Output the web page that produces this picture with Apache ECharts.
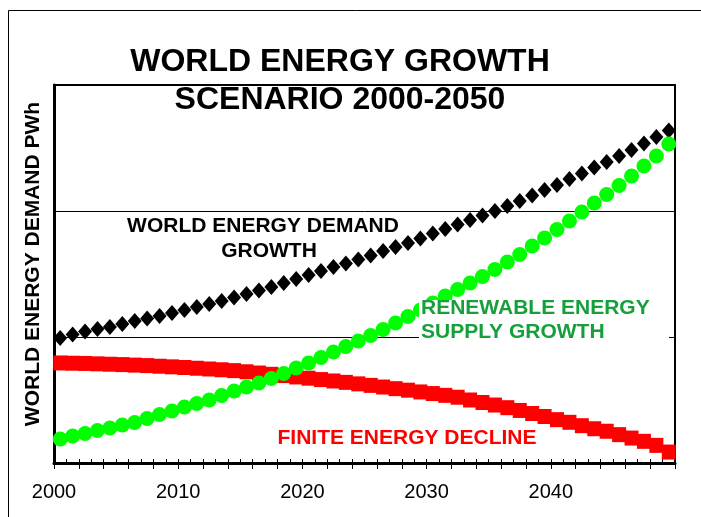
<!DOCTYPE html>
<html>
<head>
<meta charset="utf-8">
<script src="https://cdn.jsdelivr.net/npm/echarts@6/dist/echarts.min.js"></script>
<style>html,body{margin:0;padding:0;background:#fff;}#c{width:701px;height:517px;}</style>
</head>
<body>
<div id="c"></div>
<script>
const years = ['2000','2001','2002','2003','2004','2005','2006','2007','2008','2009',
 '2010','2011','2012','2013','2014','2015','2016','2017','2018','2019',
 '2020','2021','2022','2023','2024','2025','2026','2027','2028','2029',
 '2030','2031','2032','2033','2034','2035','2036','2037','2038','2039',
 '2040','2041','2042','2043','2044','2045','2046','2047','2048','2049'];

const demand = [99.2,102.0,104.4,106.3,107.9,110.3,112.7,114.7,116.7,119.0,
 121.4,123.8,126.2,128.6,131.3,134.1,136.9,139.7,142.9,146.0,
 149.2,152.4,155.6,158.3,161.5,164.7,168.3,171.4,174.6,178.2,
 182.1,185.7,189.3,192.9,196.4,200.0,204.0,207.9,212.3,216.7,
 220.6,225.4,229.8,234.5,238.9,243.7,248.4,253.6,258.7,263.9];

const renewable = [19.0,21.4,23.4,25.8,27.8,30.2,32.1,35.3,38.5,41.3,
 44.4,47.2,50.0,53.6,57.1,60.3,63.5,67.1,71.0,75.4,
 79.4,83.7,88.1,92.5,96.8,101.2,106.0,111.1,116.3,121.4,
 127.0,132.5,137.7,142.9,148.0,153.6,159.5,165.5,172.2,178.6,
 185.3,192.1,199.2,206.3,213.1,220.2,227.8,235.7,243.7,253.2];

const finite = [79.4,79.2,79.0,78.7,78.4,78.1,77.7,77.3,76.8,76.3,
 75.8,75.2,74.6,74.0,73.3,72.4,71.4,70.4,69.4,68.3,
 67.3,66.2,65.1,64.0,62.8,61.6,60.3,59.0,57.8,56.4,
 55.1,53.7,52.2,50.0,48.0,46.0,43.9,41.7,39.3,36.9,
 34.4,32.3,29.6,27.2,25.2,22.5,19.8,17.2,14.0,8.7];

const titleLines = ['WORLD ENERGY GROWTH','SCENARIO 2000-2050'];
const yName = 'WORLD ENERGY DEMAND PWh';
const labelDemand = ['WORLD ENERGY DEMAND','GROWTH'];
const labelRenew = ['RENEWABLE ENERGY','SUPPLY GROWTH'];
const labelFinite = 'FINITE ENERGY DECLINE';

const FF = '"Liberation Sans", Arial, sans-serif';
const chart = echarts.init(document.getElementById('c'));

function txt(x, y, text, size, color, align, extra) {
  return Object.assign({
    type: 'text', x: x, y: y, z: 100,
    style: { text: text, fill: color, align: align || 'center', verticalAlign: 'middle',
      fontFamily: FF, fontWeight: 'bold', fontSize: size }
  }, extra || {});
}

chart.setOption({
  animation: false,
  backgroundColor: '#fff',
  grid: { left: 54, right: 26, top: 85, bottom: 54, show: true, borderColor: '#000', borderWidth: 2, backgroundColor: 'transparent' },
  xAxis: [
    { type: 'category', data: years, boundaryGap: true, position: 'bottom',
      axisLine: { onZero: false, lineStyle: { color: '#000', width: 3 } },
      axisTick: { show: true, inside: true, length: 4, interval: 0, lineStyle: { color: '#000', width: 1 } },
      axisLabel: { show: false }, splitLine: { show: false } },
    { type: 'value', min: 2000, max: 2050, interval: 2, position: 'bottom',
      axisLine: { show: false, onZero: false },
      axisTick: { show: true, length: 6, lineStyle: { color: '#000', width: 1 } },
      axisLabel: { margin: 19, color: '#000', fontFamily: FF, fontSize: 20,
        formatter: function (v) { return v % 10 === 0 && v < 2050 ? String(v) : ''; } },
      splitLine: { show: false } }
  ],
  yAxis: { type: 'value', min: 0, max: 300, interval: 100,
    axisLine: { show: true, lineStyle: { color: '#000', width: 3 } },
    axisTick: { show: false }, axisLabel: { show: false },
    splitLine: { show: true, lineStyle: { color: '#000', width: 1 } } },
  series: [
    { name: 'Demand', type: 'scatter', xAxisIndex: 0, data: demand, symbol: 'diamond', symbolSize: [14, 16],
      itemStyle: { color: '#000', opacity: 1 }, z: 2 },
    { name: 'Finite', type: 'scatter', xAxisIndex: 0, data: finite, symbol: 'rect', symbolSize: [14, 15],
      itemStyle: { color: '#ff0000', opacity: 1 }, z: 3 },
    { name: 'Renewable', type: 'scatter', xAxisIndex: 0, data: renewable, symbol: 'circle', symbolSize: 15,
      itemStyle: { color: '#00ff00', opacity: 1 }, z: 4 }
  ],
  graphic: [
    { type: 'rect', shape: { x: 8.5, y: 10.5, width: 720, height: 540 }, style: { fill: 'none', stroke: '#000', lineWidth: 1 }, z: -10, silent: true },
    txt(340, 62, titleLines[0], 32, '#000'),
    txt(340, 100, titleLines[1], 32, '#000'),
    txt(33, 264, yName, 21, '#000', 'center', { rotation: Math.PI / 2 }),
    txt(263, 226.5, labelDemand[0], 21, '#000'),
    txt(269, 251.5, labelDemand[1], 21, '#000'),
    { type: 'rect', shape: { x: 419, y: 300, width: 250, height: 43 }, style: { fill: '#fff' }, z: 90, silent: true },
    txt(421, 308, labelRenew[0], 21, '#16a03c', 'left'),
    txt(421, 332, labelRenew[1], 21, '#16a03c', 'left'),
    txt(407, 438.5, labelFinite, 21, '#ff0000')
  ]
});
</script>
</body>
</html>
